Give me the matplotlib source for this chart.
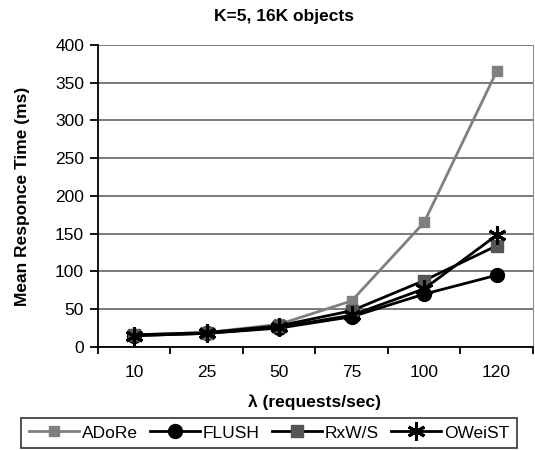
import matplotlib
matplotlib.use('Agg')
import matplotlib.pyplot as plt
import numpy as np

plt.rcParams['font.family'] = ['Liberation Sans', 'DejaVu Sans']

categories = ['10', '25', '50', '75', '100', '120']
adore  = [16, 19, 30, 61, 165, 365]
flush  = [15, 18, 25, 40, 70, 95]
rxws   = [16, 19, 28, 48, 88, 134]
oweist = [15, 18, 26, 42, 77, 148]

fig = plt.figure(figsize=(5.35, 4.5), dpi=100)
ax = fig.add_axes([0.183, 0.229, 0.813, 0.671])

x = np.arange(len(categories))
ax.plot(x, adore, color='#7f7f7f', lw=2, marker='s', ms=7, mfc='#7f7f7f', mec='#7f7f7f', label='ADoRe', zorder=3)
ax.plot(x, flush, color='black', lw=2, marker='o', ms=10, mfc='black', mec='black', label='FLUSH', zorder=4)
ax.plot(x, rxws, color='black', lw=2, marker='s', ms=8, mfc='#555555', mec='#555555', label='RxW/S', zorder=5)
ax.plot(x, oweist, color='black', lw=2, marker=(6, 2, 0), ms=13, mew=2.2, mec='black', label='OWeiST', zorder=6)

ax.set_xlim(-0.5, 5.5)
ax.set_ylim(0, 400)
ax.set_yticks(np.arange(0, 401, 50))
ax.set_xticks(x)
ax.set_xticklabels(categories)
ax.set_xticks(np.arange(-0.5, 5.6, 1), minor=True)
ax.tick_params(axis='x', which='major', length=0, pad=13, labelsize=12.5)
ax.tick_params(axis='x', which='minor', length=5, width=1.3, direction='out')
ax.tick_params(axis='y', length=6, width=1.3, direction='out', labelsize=12.5, pad=4)

ax.yaxis.grid(True, color='#707070', lw=1.3)
ax.set_axisbelow(True)
ax.spines['top'].set_visible(False)
ax.spines['right'].set_color('#909090')
ax.spines['left'].set_linewidth(1.3)
ax.spines['bottom'].set_linewidth(1.3)

fig.text(284 / 535, 1 - 17 / 450, 'K=5, 16K objects', ha='center', va='center',
         fontsize=12.5, fontweight='bold')
fig.text(23 / 535, 1 - 196 / 450, 'Mean Responce Time (ms)', ha='center', va='center',
         rotation=90, fontsize=12.5, fontweight='bold')
fig.text(314 / 535, 1 - 402 / 450, 'λ (requests/sec)', ha='center', va='center',
         fontsize=12.5, fontweight='bold')

leg = fig.legend(loc='center', bbox_to_anchor=(269 / 535, 1 - 433 / 450), ncol=4,
                 fontsize=12.5, frameon=True, fancybox=False, edgecolor='black',
                 handlelength=2.9, handletextpad=0.15, columnspacing=0.7,
                 borderpad=0.45, borderaxespad=0, numpoints=1)
leg.get_frame().set_linewidth(1.2)

fig.savefig('out.png', dpi=100)
